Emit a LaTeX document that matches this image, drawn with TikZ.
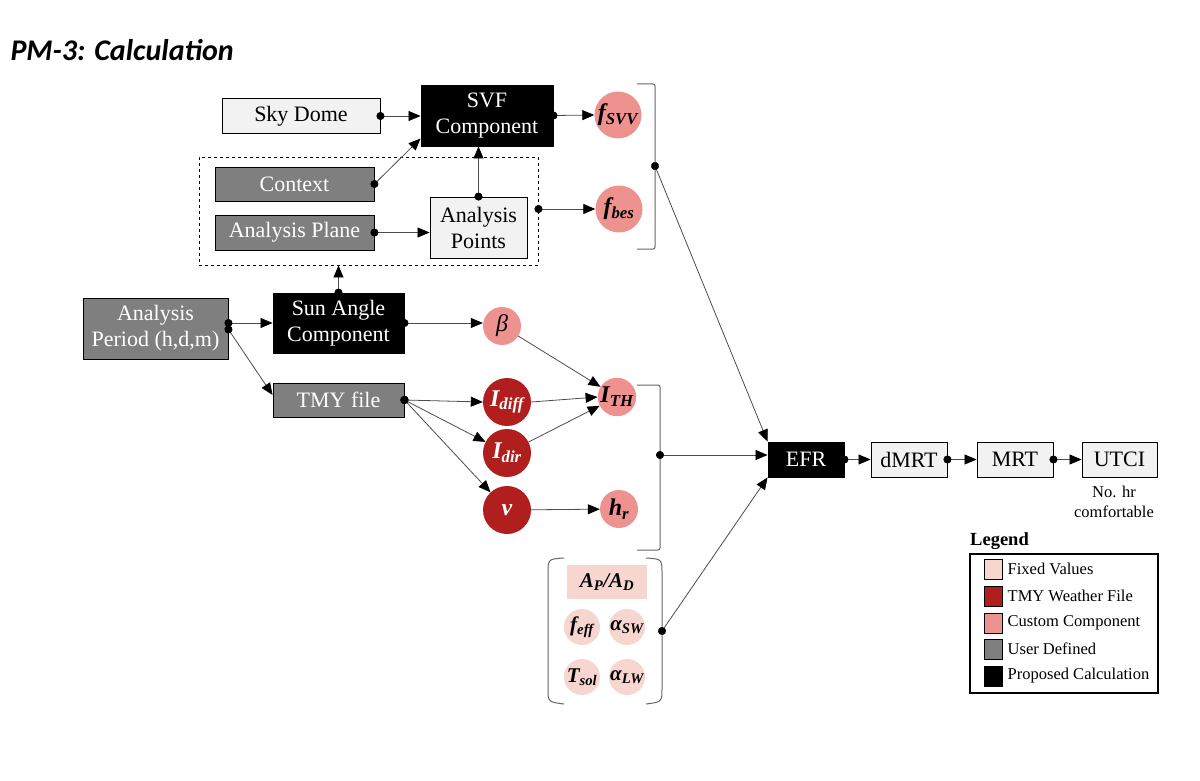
\documentclass[tikz,border=0pt]{standalone}
\usepackage{fontspec}
\setmainfont{Liberation Serif}
\newfontfamily\titlefont{Carlito}
\usepackage{xcolor}
\usepackage{tikz}
\usetikzlibrary{arrows.meta}
\usetikzlibrary{positioning}
\definecolor{lightfill}{RGB}{242,242,242}
\definecolor{usergray}{RGB}{127,127,127}
\definecolor{tmyred}{RGB}{176,30,30}
\definecolor{custompink}{RGB}{238,146,144}
\definecolor{fixedpink}{RGB}{246,214,206}
\newcommand{\symb}[2]{#1\textsubscript{#2}}
\tikzset{link/.style = {draw=black!70, line width=0.8pt,
                        {Circle[length=8pt,color=black]}-{Triangle[length=12pt,width=10pt,color=black]},
                        shorten <=-4pt}}
\tikzset{plain/.style = {draw=black!70, line width=0.8pt,
                         -{Triangle[length=12pt,width=10pt,color=black]}}}
\tikzset{bracket/.style = {draw=black!60, line width=1pt, rounded corners=2pt}}
\tikzset{box/.style = {draw, line width=0.9pt, minimum height=35pt, inner sep=0pt,
                       align=center, font=\fontsize{22}{26}\selectfont}}
\tikzset{lightbox/.style = {box, fill=lightfill}}
\tikzset{userbox/.style = {box, fill=usergray, text=white}}
\tikzset{calcbox/.style = {box, fill=black, text=white}}
\tikzset{var/.style = {circle, inner sep=0pt,
                       font=\fontsize{24}{24}\selectfont\bfseries\itshape}}
\tikzset{custom/.style = {var, fill=custompink, minimum size=38pt}}
\tikzset{weather/.style = {var, fill=tmyred, text=white, minimum size=48pt}}
\tikzset{fixed/.style = {var, fill=fixedpink, minimum size=36pt,
                         font=\fontsize{21}{21}\selectfont\bfseries\itshape}}
\tikzset{key/.style = {draw, line width=1pt, minimum width=18pt, minimum height=20pt, inner sep=0pt}}
\tikzset{keytext/.style = {font=\fontsize{16.5}{18}\selectfont, inner sep=0pt}}

\begin{document}
\begin{tikzpicture}[x=1pt, y=-1pt]
		\useasboundingbox (0,0) rectangle (1200,781);
		\node (title) [anchor=west, font=\titlefont\fontsize{30}{34}\selectfont\bfseries\itshape] at (7,50) {PM-3: Calculation};
		\node (sky) [lightbox, minimum width=158pt] at (301,116) {Sky Dome};
		\node (svf) [calcbox, minimum width=132pt, minimum height=61pt] at (487,115.5) {SVF\\Component};
		\node (fsvv) [custom, minimum size=47pt] at (618,115) {\symb{f}{SVV}};
		\node (group) [draw, dashed, line width=0.9pt, minimum width=339pt, minimum height=108pt, inner sep=0pt] at (368.5,211) {};
		\node (ctx) [userbox, minimum width=159pt, minimum height=34pt] at (294.5,184) {Context};
		\node (plane) [userbox, minimum width=159pt] at (294.5,232.5) {Analysis Plane};
		\node (points) [lightbox, minimum width=97pt, minimum height=61pt] at (478.5,227.5) {Analysis\\Points};
		\node (fbes) [custom, minimum size=47pt] at (619,209) {\symb{f}{bes}};
		\node (period) [userbox, minimum width=145pt, minimum height=61pt] at (155.5,328.5) {Analysis\\Period (h,d,m)};
		\node (sun) [calcbox, minimum width=131pt, minimum height=60pt] at (338.5,323) {Sun Angle\\Component};
		\node (beta) [custom] at (502,326) {\mdseries β};
		\node (tmy) [userbox, minimum width=131pt, minimum height=34pt] at (338.5,400) {TMY file};
		\node (idiff) [weather] at (507,402) {\symb{I}{diff}};
		\node (idir) [weather] at (507,453) {\symb{I}{dir}};
		\node (v) [weather] at (507,510) {v};
		\node (ith) [custom] at (617,397) {\symb{I}{TH}};
		\node (hr) [custom] at (619,509) {\symb{h}{r}};
		\node (ratio) [fill=fixedpink, minimum width=80pt, minimum height=34pt, inner sep=0pt, font=\fontsize{21}{24}\selectfont\bfseries\itshape] at (607,582) {\symb{A}{P}/\symb{A}{D}};
		\node (feff) [fixed] at (582,627) {\symb{f}{eff}};
		\node (asw) [fixed] at (627,627) {\symb{α}{SW}};
		\node (tsol) [fixed] at (582,677) {\symb{T}{sol}};
		\node (alw) [fixed] at (627,677) {\symb{α}{LW}};
		\node (efr) [calcbox, minimum width=76pt] at (806,459.5) {EFR};
		\node (dmrt) [lightbox, minimum width=76pt] at (909,459.5) {dMRT};
		\node (mrt) [lightbox, minimum width=76pt] at (1015,459.5) {MRT};
		\node (utci) [lightbox, minimum width=75pt] at (1119.5,459.5) {UTCI};
		\node (note) [align=center, font=\fontsize{16.5}{19.5}\selectfont] at (1114,502) {No. hr\\comfortable};
		\node (legtitle) [anchor=west, inner sep=0pt, font=\fontsize{18.5}{20}\selectfont\bfseries] at (970,541) {Legend};
		\node (legbox) [draw, line width=1.3pt, minimum width=188pt, minimum height=139pt, inner sep=0pt] at (1064,623.5) {};
		\node (key1) [key, fill=fixedpink] at (993,569) {};
		\node (key2) [key, fill=tmyred] at (993,596) {};
		\node (key3) [key, fill=custompink] at (993,623) {};
		\node (key4) [key, fill=usergray] at (993,649) {};
		\node (key5) [key, fill=black] at (993,676) {};
		\node (lab1) [keytext, right=5pt of key1] {Fixed Values};
		\node (lab2) [keytext, right=5pt of key2] {TMY Weather File};
		\node (lab3) [keytext, right=5pt of key3] {Custom Component};
		\node (lab4) [keytext, right=5pt of key4] {User Defined};
		\node (lab5) [keytext, right=5pt of key5] {Proposed Calculation};
		\coordinate (b1) at (655,166);
		\coordinate (b2) at (660,455);
		\coordinate (b3) at (662,631);
		\draw [bracket] (637,84) to (655,84) to (655,249) to (637,249);
		\draw [bracket] (637,385) to (660,385) to (660,550) to (637,550);
		\draw [bracket] (564,558) .. controls (548,559) .. (548,576) to (548,686) .. controls (548,702) .. (564,704);
		\draw [bracket] (646,558) .. controls (662,559) .. (662,576) to (662,686) .. controls (662,702) .. (646,704);
		\draw [link] (sky.east) to (sky.east -| svf.west);
		\draw [link] (ctx.east) to ([yshift=-23pt]svf.west);
		\draw [link] (plane.east) to (plane.east -| points.west);
		\draw [link] (points.north) to (points.north |- svf.south);
		\draw [link] (svf.east) to (fsvv.west);
		\draw [link] (group.east |- fbes) to (fbes.west);
		\draw [link] (sun.north) to (sun.north |- group.south);
		\draw [link] (period.east |- sun) to (sun.west);
		\draw [link] ([yshift=-1pt]period.east) to ([yshift=5pt]tmy.west);
		\draw [link] (sun.east) to (sun.east -| beta.west);
		\draw [plain] (beta) to (ith);
		\draw [link] (tmy.east) to (idiff.west);
		\draw [link] (tmy.east) to (idir);
		\draw [link] (tmy.east) to (v);
		\draw [plain] (idiff.east) to (ith.west);
		\draw [plain] (idir) to (ith);
		\draw [plain] (v) to (hr);
		\draw [link] (b1) to (efr.north west);
		\draw [link] (b2) to (b2 -| efr.west);
		\draw [link] (b3) to (efr.south west);
		\draw [link] (efr.east) to (dmrt.west);
		\draw [link] (dmrt.east) to (mrt.west);
		\draw [link] (mrt.east) to (utci.west);
	\end{tikzpicture}
\end{document}
